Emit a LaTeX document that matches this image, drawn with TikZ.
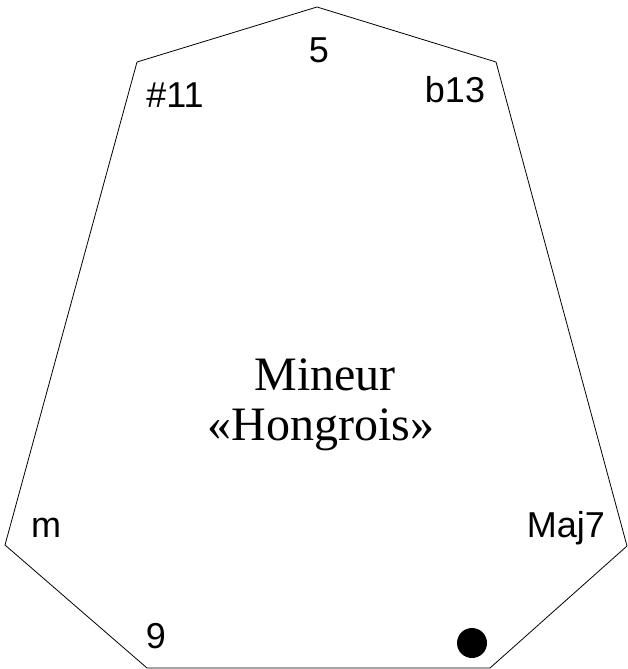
\documentclass[tikz,border=0pt]{standalone}
\usepackage{fontspec}
\setmainfont{Liberation Serif}
\newfontfamily\labelfont{Liberation Sans}
\usetikzlibrary{positioning}
\tikzset{
  deg/.style={font=\labelfont\fontsize{36}{42}\selectfont,anchor=base,inner sep=0pt},
  title/.style={font=\fontsize{48}{54}\selectfont,anchor=base,inner sep=0pt}}

\begin{document}
\begin{tikzpicture}[x=1pt,y=-1pt]
  \useasboundingbox (0,0) rectangle (627,669);
  % the outline of the scale
  \draw[line width=0.8pt,line join=miter]
    (317,7) -- (496,62) -- (627,546) -- (490,668) -- (147,668) -- (5,545) -- (137,62) -- cycle;
  % degrees round the edge
  \node[deg] (five) at (319,63) {5};
  \node[deg] (sharp11) at (175,107) {\#11};
  \node[deg] (flat13) at (455,102) {b13};
  \node[deg] (minor) at (46,537) {m};
  \node[deg] (maj7) at (566,537) {Maj7};
  \node[deg] (nine) at (156,648) {9};
  % the root
  \fill (472,643) circle (15);
  % name of the scale
  \node[title] (name) at (325,390) {Mineur};
  \node[title] (nick) at (321,440) {«Hongrois»};
\end{tikzpicture}
\end{document}
